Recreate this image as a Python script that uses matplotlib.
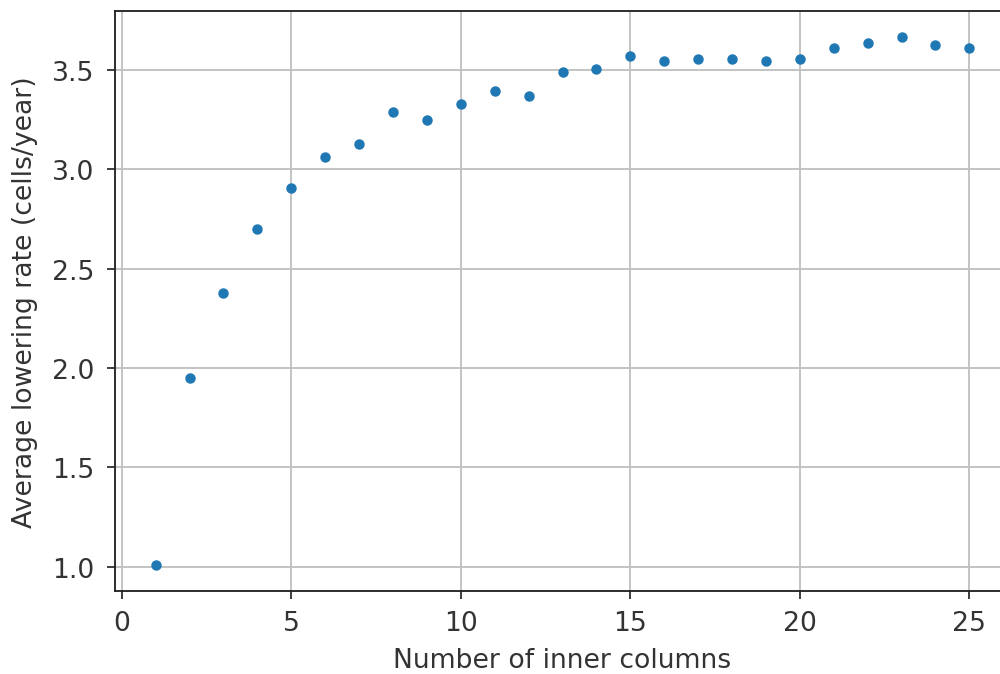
import matplotlib
matplotlib.use("Agg")
import matplotlib.pyplot as plt

# Average lowering rate as a function of the number of inner columns
inner_columns = list(range(1, 26))
lowering_rate = [1.01, 1.95, 2.38, 2.70, 2.905, 3.065, 3.13, 3.29, 3.25, 3.33,
                 3.395, 3.37, 3.49, 3.505, 3.57, 3.545, 3.555, 3.555, 3.545, 3.555,
                 3.61, 3.635, 3.665, 3.625, 3.61]

text_color = "#333333"
plt.rcParams.update({
    "font.size": 11.5,
    "text.color": text_color,
    "axes.labelcolor": text_color,
    "xtick.color": text_color,
    "ytick.color": text_color,
    "axes.edgecolor": "#222222",
    "xtick.major.pad": 4.5,
    "ytick.major.pad": 5.5,
})

dpi = 1000 / 6.0
fig = plt.figure(figsize=(6.0, 675 / dpi), dpi=dpi)
ax = fig.add_axes([0.115, 1 - 592 / 675, 0.895, (592 - 12) / 675])

ax.plot(inner_columns, lowering_rate, ".", color="#1f77b4", markersize=7)
ax.grid(True, color="#c0c0c0")
ax.set_xticks([0, 5, 10, 15, 20, 25])
ax.set_yticks([1.0, 1.5, 2.0, 2.5, 3.0, 3.5])
ax.set_xlabel("Number of inner columns", labelpad=5)
ax.set_ylabel("Average lowering rate (cells/year)", labelpad=6)

fig.savefig("out.png", dpi=dpi)
